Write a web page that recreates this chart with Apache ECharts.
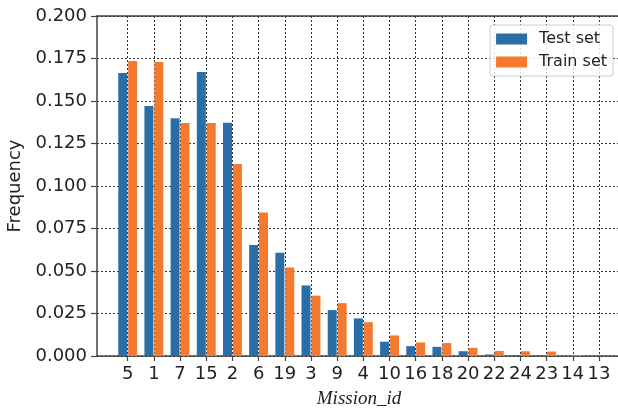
<!DOCTYPE html>
<html>
<head>
<meta charset="utf-8">
<script src="https://cdn.jsdelivr.net/npm/echarts@6/dist/echarts.min.js"></script>
<style>
  html, body { margin: 0; padding: 0; background: #fff; }
  #mycharts { width: 618px; height: 409px; }
</style>
</head>
<body>
<div id="mycharts"></div>
<script>
// mission ids, sorted by test frequency
const missionIds = ['5', '1', '7', '15', '2', '6', '19', '3', '9', '4', '10', '16', '18', '20', '22', '24', '23', '14', '13'];
const testSet = [0.1664, 0.147, 0.1398, 0.1671, 0.1372, 0.0653, 0.0608, 0.0415, 0.027, 0.0221, 0.0084, 0.0058, 0.0054, 0.0028, 0.0009, 0.0003, 0.0003, 0, 0];
const trainSet = [0.1735, 0.1729, 0.137, 0.137, 0.113, 0.0844, 0.052, 0.0355, 0.0311, 0.0199, 0.0121, 0.008, 0.0076, 0.0048, 0.003, 0.0028, 0.0026, 0.0006, 0];

const blue = '#2a6ea8';
const orange = '#f37a2f';
const dash = { color: '#333', width: 1, type: [2, 2] };

let chart = echarts.init(document.getElementById('mycharts'));

chart.setOption({
    backgroundColor: '#fff',
    animation: false,
    textStyle: { fontFamily: 'DejaVu Sans' },
    legend: {
        orient: 'vertical',
        right: 5,
        top: 25,
        padding: [6, 6, 6, 6],
        itemGap: 7,
        itemWidth: 31,
        itemHeight: 11,
        icon: 'rect',
        backgroundColor: 'rgba(255,255,255,0.85)',
        borderColor: '#ccc',
        borderWidth: 1,
        borderRadius: 3,
        textStyle: { fontSize: 16, color: '#222', padding: [0, 0, 0, 7] },
        data: ['Test set', 'Train set']
    },
    grid: [
        // frame + horizontal grid
        { left: 97, top: 16, right: -3, bottom: 53, outerBoundsMode: 'none', containLabel: false,
          show: true, borderColor: '#444', borderWidth: 1.5, backgroundColor: 'transparent' },
        // data grid, ticks from first to last id
        { left: 127.7, top: 16, right: 19, bottom: 53, outerBoundsMode: 'none', containLabel: false }
    ],
    xAxis: [{
        gridIndex: 0,
        type: 'value',
        min: 0,
        max: 1,
        axisLine: { show: false },
        axisTick: { show: false },
        axisLabel: { show: false },
        splitLine: { show: false },
        name: 'Mission_id',
        nameLocation: 'middle',
        nameGap: 33,
        nameTextStyle: { fontFamily: 'Liberation Serif', fontStyle: 'italic', fontSize: 19, color: '#222' }
    }, {
        gridIndex: 1,
        type: 'category',
        boundaryGap: false,
        data: missionIds,
        axisLine: { show: false },
        axisTick: { show: true, length: 5, lineStyle: { color: '#444', width: 1.2 } },
        axisLabel: { fontSize: 18, color: '#222', margin: 9, interval: 0 },
        splitLine: { show: true, lineStyle: dash }
    }],
    yAxis: [{
        gridIndex: 0,
        type: 'value',
        min: 0,
        max: 0.2,
        interval: 0.025,
        axisLine: { show: false },
        axisTick: { show: true, length: 6, lineStyle: { color: '#444', width: 1.2 } },
        axisLabel: { fontSize: 18, color: '#222', margin: 10, formatter: v => v.toFixed(3) },
        splitLine: { show: true, lineStyle: dash },
        name: 'Frequency',
        nameLocation: 'middle',
        nameGap: 70,
        nameTextStyle: { fontSize: 18, color: '#222' }
    }, {
        gridIndex: 1,
        type: 'value',
        min: 0,
        max: 0.2,
        show: false
    }],
    series: [{
        name: 'Test set',
        type: 'bar',
        xAxisIndex: 1,
        yAxisIndex: 1,
        data: testSet,
        barWidth: 9,
        barGap: '10%',
        clip: false,
        itemStyle: { color: blue }
    }, {
        name: 'Train set',
        type: 'bar',
        xAxisIndex: 1,
        yAxisIndex: 1,
        data: trainSet,
        barWidth: 9,
        barGap: '10%',
        clip: false,
        itemStyle: { color: orange }
    }]
});
</script>
</body>
</html>
